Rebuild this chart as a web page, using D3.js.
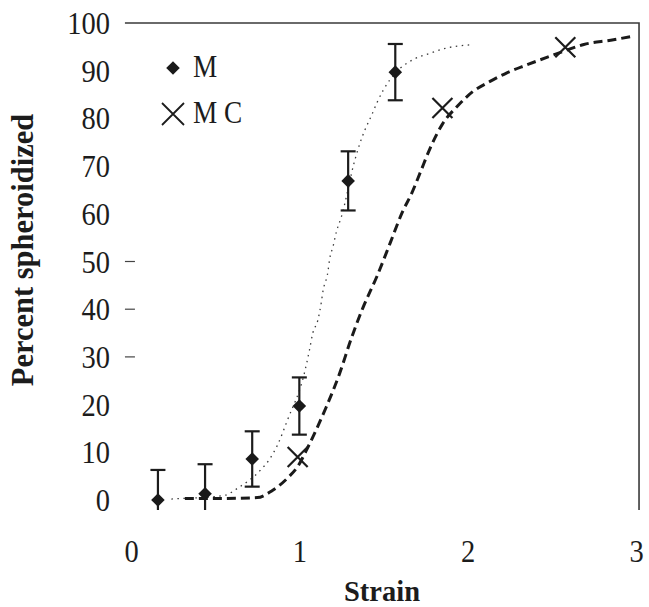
<!DOCTYPE html>
<html>
<head>
<meta charset="utf-8">
<script src="https://cdn.jsdelivr.net/npm/d3@7"></script>
<style>
  html, body { margin: 0; padding: 0; background: #fff; }
  svg { display: block; }
</style>
</head>
<body>
<svg id="chart" width="649" height="607"></svg>
<script>
// Axis ticks
const strainTicks = [0, 1, 2, 3];
const pctTicks = [0, 10, 20, 30, 40, 50, 60, 70, 80, 90, 100];
const markedTicks = [30, 40, 50];

// Series M: measured points with error bars
const mStrain = [0.16, 0.44, 0.72, 1.0, 1.29, 1.57];
const mPct = [0, 1.3, 8.6, 19.7, 66.9, 89.7];
const mErr = [6.3, 6.2, 5.8, 6.0, 6.2, 5.9];

// Series M C: measured points
const mcStrain = [0.99, 1.85, 2.58];
const mcPct = [9.0, 82.2, 94.9];

// Fitted curve for M (dotted)
const mFitStrain = [0.24, 0.29, 0.45, 0.56, 0.63, 0.77, 0.82, 0.87, 0.93, 1.03, 1.06, 1.08, 1.11, 1.13, 1.14, 1.17, 1.18, 1.2, 1.22, 1.25, 1.33, 1.36, 1.39, 1.43, 1.46, 1.5, 1.57, 1.68, 1.78, 1.88, 2.01];
const mFitPct = [0.2, 0.3, 0.6, 1.0, 2.4, 6.3, 8.4, 11.5, 16.8, 26.6, 31.4, 35.0, 37.7, 41.3, 43.7, 47.9, 50.5, 53.1, 56.2, 59.4, 71.3, 74.8, 77.6, 80.7, 83.2, 86.0, 89.5, 92.4, 93.7, 94.8, 95.4];

// Fitted curve for M C (dashed)
const mcFitStrain = [0.32, 0.5, 0.75, 0.84, 0.93, 0.99, 1.05, 1.1, 1.16, 1.24, 1.31, 1.38, 1.46, 1.54, 1.61, 1.67, 1.72, 1.78, 1.85, 1.94, 2.03, 2.13, 2.23, 2.35, 2.47, 2.58, 2.69, 2.85, 2.98];
const mcFitPct = [0.3, 0.3, 0.5, 2.0, 4.6, 7.0, 11.0, 14.7, 19.5, 26.6, 34.0, 40.5, 46.8, 53.9, 60.2, 64.5, 68.8, 74.0, 78.8, 82.6, 85.6, 87.7, 89.5, 91.2, 92.8, 94.2, 95.5, 96.4, 97.2];

// Legend entries
const legendLabels = ["M", "M C"];

const FONT = "'Liberation Serif', 'Times New Roman', Times, serif";
const INK = "#1c1c1c";

const svg = d3.select("#chart").attr("font-family", FONT);

const x = d3.scaleLinear().domain([0, 3]).range([131, 636]);
const y = d3.scaleLinear().domain([0, 100]).range([500, 23]);

// Plot frame extent (in data units)
const frameX = [-0.036, 3.018];
const frameY = [-2.1, 100];

svg.append("defs").append("clipPath").attr("id", "plotClip")
  .append("rect")
  .attr("x", x(frameX[0])).attr("y", y(frameY[1]))
  .attr("width", x(frameX[1]) - x(frameX[0]))
  .attr("height", y(frameY[0]) - y(frameY[1]));

// Frame: top and right edges
svg.append("path")
  .attr("d", `M${x(frameX[0])},${y(frameY[1])}H${x(frameX[1])}V${y(frameY[0])}`)
  .attr("fill", "none").attr("stroke", "#3a3a3a").attr("stroke-width", 1.6);

// Small tick marks on the left edge
svg.append("g").selectAll("line").data(markedTicks).join("line")
  .attr("x1", x(frameX[0])).attr("x2", x(frameX[0]) + 10)
  .attr("y1", d => y(d)).attr("y2", d => y(d))
  .attr("stroke", "#444").attr("stroke-width", 1.2);

// Y axis labels
const yAxis = svg.append("g").attr("transform", "translate(110,0)")
  .call(d3.axisLeft(y).tickValues(pctTicks).tickFormat(d3.format("d")).tickSize(0).tickPadding(0))
  .attr("font-family", FONT).attr("font-size", 31);
yAxis.select(".domain").remove();
yAxis.selectAll("text")
  .attr("font-family", FONT).attr("font-size", 31).attr("fill", INK)
  .attr("dy", "0.34em")
  .attr("transform", "scale(0.92,1)");

// X axis labels
const xAxis = svg.append("g").attr("transform", "translate(0,562)")
  .call(d3.axisBottom(x).tickValues(strainTicks).tickFormat(d3.format("d")).tickSize(0).tickPadding(0))
  .attr("font-family", FONT).attr("font-size", 31);
xAxis.select(".domain").remove();
xAxis.selectAll("text")
  .attr("font-family", FONT).attr("font-size", 31).attr("fill", INK)
  .attr("y", 0).attr("dy", 0)
  .attr("transform", "scale(0.92,1)");

// Axis titles
svg.append("text")
  .attr("transform", `translate(382,601) scale(0.95,1)`)
  .attr("text-anchor", "middle")
  .attr("font-family", FONT).attr("fill", INK)
  .attr("font-size", 30).attr("font-weight", "bold")
  .text("Strain");

svg.append("text")
  .attr("transform", `translate(33,250) rotate(-90)`)
  .attr("text-anchor", "middle")
  .attr("font-family", FONT).attr("fill", INK)
  .attr("font-size", 30.5).attr("font-weight", "bold")
  .text("Percent spheroidized");

const plot = svg.append("g").attr("clip-path", "url(#plotClip)");

// Fitted curves
const lineGen = d3.line().x(d => x(d[0])).y(d => y(d[1])).curve(d3.curveMonotoneX);

plot.append("path")
  .datum(d3.zip(mFitStrain, mFitPct))
  .attr("d", lineGen)
  .attr("fill", "none").attr("stroke", "#3a3a3a").attr("stroke-width", 1.3)
  .attr("stroke-dasharray", "1.5,4.5");

plot.append("path")
  .datum(d3.zip(mcFitStrain, mcFitPct))
  .attr("d", lineGen)
  .attr("fill", "none").attr("stroke", "#1a1a1a").attr("stroke-width", 3)
  .attr("stroke-dasharray", "9,5");

// Error bars for M
const mData = d3.zip(mStrain, mPct, mErr);
const capHalf = 7.5;
const eb = plot.append("g").attr("stroke", INK).attr("stroke-width", 2.2);
eb.selectAll("line.stem").data(mData).join("line").attr("class", "stem")
  .attr("x1", d => x(d[0])).attr("x2", d => x(d[0]))
  .attr("y1", d => y(d[1] - d[2])).attr("y2", d => y(d[1] + d[2]));
eb.selectAll("line.capTop").data(mData).join("line").attr("class", "capTop")
  .attr("x1", d => x(d[0]) - capHalf).attr("x2", d => x(d[0]) + capHalf)
  .attr("y1", d => y(d[1] + d[2])).attr("y2", d => y(d[1] + d[2]));
eb.selectAll("line.capBot").data(mData).join("line").attr("class", "capBot")
  .attr("x1", d => x(d[0]) - capHalf).attr("x2", d => x(d[0]) + capHalf)
  .attr("y1", d => y(d[1] - d[2])).attr("y2", d => y(d[1] - d[2]));

// Diamond markers for M
const diamond = d3.symbol().type(d3.symbolSquare).size(92);
svg.append("g").selectAll("path").data(mData).join("path")
  .attr("d", diamond)
  .attr("transform", d => `translate(${x(d[0])},${y(d[1])}) rotate(45)`)
  .attr("fill", "#1a1a1a");

// X markers for M C
const xHalf = 10;
const xMark = h => `M${-h},${-h}L${h},${h}M${-h},${h}L${h},${-h}`;
svg.append("g").selectAll("path").data(d3.zip(mcStrain, mcPct)).join("path")
  .attr("d", xMark(xHalf))
  .attr("transform", d => `translate(${x(d[0])},${y(d[1])})`)
  .attr("fill", "none").attr("stroke", INK).attr("stroke-width", 2.2);

// Legend
const legend = svg.append("g");
legend.append("path")
  .attr("d", diamond)
  .attr("transform", "translate(173,68) rotate(45)")
  .attr("fill", "#1a1a1a");
legend.append("path")
  .attr("d", xMark(11))
  .attr("transform", "translate(173,114)")
  .attr("fill", "none").attr("stroke", INK).attr("stroke-width", 1.8);
legend.selectAll("text").data(legendLabels).join("text")
  .attr("transform", (d, i) => `translate(193,${i === 0 ? 77 : 123}) scale(0.88,1)`)
  .attr("font-family", FONT).attr("fill", INK)
  .attr("font-size", 31)
  .text(d => d);
</script>
</body>
</html>
